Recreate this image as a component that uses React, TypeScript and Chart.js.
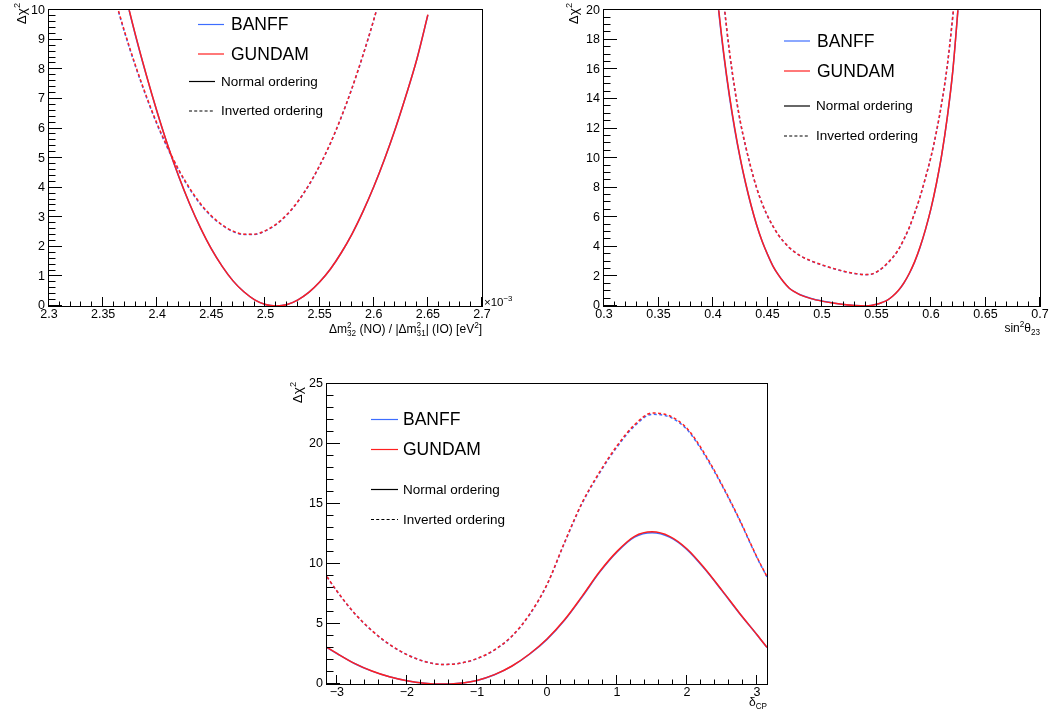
import React, { useEffect, useRef } from 'react';
import { Chart, registerables } from 'chart.js';

Chart.register(...registerables);

const FONT = "'Liberation Sans', Arial, Helvetica, sans-serif";
const BLUE = '#3d6dff';
const RED = '#ff1f1f';
const DASH = [3, 2.5];

// ---------- Panel 1 : Δm²32 ----------
const dm2X = [2.36, 2.37, 2.38, 2.39, 2.40, 2.41, 2.42, 2.43, 2.44, 2.45, 2.46, 2.47, 2.48, 2.49, 2.50,
  2.51, 2.52, 2.53, 2.54, 2.55, 2.56, 2.57, 2.58, 2.59, 2.60, 2.61, 2.62, 2.63, 2.64, 2.65];
const dm2NoGundam = [12.20, 10.62, 9.15, 7.80, 6.55, 5.40, 4.37, 3.45, 2.64, 1.93, 1.34, 0.85, 0.48, 0.21, 0.05,
  0.00, 0.05, 0.21, 0.46, 0.81, 1.25, 1.80, 2.44, 3.19, 4.03, 4.97, 6.00, 7.14, 8.37, 9.85];
const dm2NoBanff = [12.18, 10.60, 9.13, 7.79, 6.54, 5.39, 4.36, 3.44, 2.63, 1.93, 1.34, 0.85, 0.48, 0.21, 0.05,
  0.00, 0.05, 0.21, 0.46, 0.81, 1.25, 1.80, 2.44, 3.19, 4.03, 4.97, 6.00, 7.14, 8.37, 9.84];
const dm2IoGundam = [10.51, 9.26, 8.12, 7.09, 6.15, 5.33, 4.60, 3.98, 3.46, 3.05, 2.74, 2.53, 2.43, 2.43, 2.55,
  2.77, 3.10, 3.54, 4.09, 4.75, 5.51, 6.39, 7.38, 8.48, 9.68, 11.0, 12.4, 14.0, 15.6, 17.4];
const dm2IoBanff = [10.48, 9.23, 8.09, 7.06, 6.12, 5.30, 4.57, 3.95, 3.43, 3.03, 2.73, 2.52, 2.42, 2.42, 2.54,
  2.76, 3.09, 3.53, 4.08, 4.74, 5.50, 6.38, 7.37, 8.47, 9.67, 11.0, 12.4, 14.0, 15.6, 17.4];
const dm2XTicks = [2.3, 2.35, 2.4, 2.45, 2.5, 2.55, 2.6, 2.65, 2.7];
const dm2YTicks = [0, 1, 2, 3, 4, 5, 6, 7, 8, 9, 10];

// ---------- Panel 2 : sin²θ23 ----------
const th23X = [0.395, 0.40, 0.405, 0.41, 0.415, 0.42, 0.425, 0.43, 0.435, 0.44, 0.445, 0.45, 0.455, 0.46,
  0.465, 0.47, 0.475, 0.48, 0.49, 0.50, 0.51, 0.52, 0.53, 0.54, 0.545, 0.55, 0.555, 0.56, 0.565, 0.57,
  0.575, 0.58, 0.585, 0.59, 0.595, 0.60, 0.605, 0.61, 0.615, 0.62, 0.625, 0.63];
const th23NoGundam = [28, 24, 20.2, 17.0, 14.3, 12.0, 10.0, 8.3, 6.8, 5.5, 4.4, 3.5, 2.7, 2.1,
  1.6, 1.2, 0.95, 0.75, 0.50, 0.33, 0.20, 0.10, 0.03, 0.0, 0.03, 0.12, 0.24, 0.40, 0.68, 1.05,
  1.55, 2.2, 3.0, 4.0, 5.2, 6.6, 8.3, 10.3, 12.8, 15.9, 20.3, 25];
const th23NoBanff = [28, 24, 20.1, 16.9, 14.2, 11.9, 9.95, 8.25, 6.78, 5.48, 4.39, 3.49, 2.7, 2.1,
  1.6, 1.2, 0.95, 0.76, 0.51, 0.34, 0.21, 0.10, 0.03, 0.0, 0.03, 0.12, 0.24, 0.40, 0.68, 1.04,
  1.54, 2.18, 2.98, 3.98, 5.18, 6.58, 8.28, 10.28, 12.78, 15.9, 20.3, 25];
const th23IoGundam = [31, 27.5, 24, 20.5, 17.3, 14.7, 12.5, 10.8, 9.3, 8.0, 6.95, 6.1, 5.4, 4.8,
  4.35, 3.95, 3.65, 3.4, 3.05, 2.78, 2.55, 2.35, 2.2, 2.13, 2.15, 2.3, 2.55, 2.9, 3.3, 3.8,
  4.5, 5.3, 6.3, 7.4, 8.7, 10.1, 11.8, 13.8, 16.3, 19.6, 23.5, 28];
const th23IoBanff = [31, 27.4, 23.9, 20.4, 17.2, 14.6, 12.45, 10.75, 9.27, 7.98, 6.93, 6.08, 5.39, 4.79,
  4.34, 3.94, 3.64, 3.39, 3.04, 2.77, 2.54, 2.34, 2.19, 2.12, 2.14, 2.29, 2.54, 2.88, 3.28, 3.78,
  4.48, 5.28, 6.28, 7.38, 8.68, 10.08, 11.78, 13.78, 16.28, 19.6, 23.5, 28];
const th23XTicks = [0.3, 0.35, 0.4, 0.45, 0.5, 0.55, 0.6, 0.65, 0.7];
const th23YTicks = [0, 2, 4, 6, 8, 10, 12, 14, 16, 18, 20];

// ---------- Panel 3 : δCP ----------
const dcpX = [-3.1416, -3, -2.75, -2.5, -2.25, -2, -1.75, -1.5, -1.25, -1, -0.75, -0.5, -0.25, 0,
  0.25, 0.5, 0.75, 1, 1.25, 1.5, 1.75, 2, 2.25, 2.5, 2.75, 3, 3.1416];
const dcpNoGundam = [3.05, 2.55, 1.72, 1.08, 0.6, 0.27, 0.07, 0.0, 0.07, 0.3, 0.78, 1.5, 2.5, 3.75,
  5.35, 7.3, 9.35, 11.05, 12.3, 12.68, 12.3, 11.25, 9.65, 7.8, 5.9, 4.1, 3.05];
const dcpNoBanff = [3.04, 2.54, 1.71, 1.07, 0.6, 0.27, 0.07, 0.0, 0.07, 0.3, 0.77, 1.49, 2.48, 3.72,
  5.31, 7.25, 9.3, 11.0, 12.24, 12.6, 12.24, 11.2, 9.6, 7.77, 5.88, 4.09, 3.04];
const dcpIoGundam = [8.94, 7.75, 5.9, 4.45, 3.3, 2.45, 1.88, 1.63, 1.72, 2.12, 2.85, 4.0, 5.8, 8.3,
  11.8, 15.1, 17.65, 19.85, 21.6, 22.58, 22.35, 21.3, 19.2, 16.6, 13.7, 10.55, 8.94];
const dcpIoBanff = [8.92, 7.73, 5.89, 4.44, 3.29, 2.45, 1.88, 1.63, 1.72, 2.11, 2.83, 3.98, 5.77, 8.26,
  11.75, 15.03, 17.57, 19.75, 21.5, 22.47, 22.25, 21.2, 19.1, 16.52, 13.64, 10.51, 8.92];
const dcpXTicks = [-3, -2, -1, 0, 1, 2, 3];
const dcpYTicks = [0, 5, 10, 15, 20, 25];

type Rich = { t?: string; sup?: string; sub?: string };

function partWidth(ctx: CanvasRenderingContext2D, p: Rich, size: number) {
  if (p.t) {
    ctx.font = `${size}px ${FONT}`;
    return ctx.measureText(p.t).width;
  }
  ctx.font = `${size * 0.68}px ${FONT}`;
  return Math.max(p.sup ? ctx.measureText(p.sup).width : 0, p.sub ? ctx.measureText(p.sub).width : 0);
}

function drawRich(ctx: CanvasRenderingContext2D, parts: Rich[], x: number, y: number, size: number, align: 'left' | 'right') {
  let total = 0;
  for (const p of parts) total += partWidth(ctx, p, size);
  let cx = align === 'right' ? x - total : x;
  ctx.textAlign = 'left';
  ctx.textBaseline = 'alphabetic';
  ctx.fillStyle = '#000';
  for (const p of parts) {
    const w = partWidth(ctx, p, size);
    if (p.t) {
      ctx.font = `${size}px ${FONT}`;
      ctx.fillText(p.t, cx, y);
    } else {
      ctx.font = `${size * 0.68}px ${FONT}`;
      if (p.sup) ctx.fillText(p.sup, cx, y - size * 0.42);
      if (p.sub) ctx.fillText(p.sub, cx, y + size * 0.25);
    }
    cx += w;
  }
}

const rootPlugin = {
  id: 'rootStyle',
  afterDraw(chart: any, _args: any, o: any) {
    const { ctx, chartArea: a } = chart;
    const xs = chart.scales.x;
    const ys = chart.scales.y;
    ctx.save();
    ctx.strokeStyle = '#000';
    ctx.lineWidth = 1;
    // frame
    ctx.strokeRect(Math.round(a.left) - 0.5, Math.round(a.top) - 0.5, Math.round(a.right - a.left) + 1, Math.round(a.bottom - a.top) + 1);
    ctx.beginPath();
    // x ticks (inward from bottom)
    const xMinorStart = Math.ceil(xs.min / o.xMinor - 1e-6) * o.xMinor;
    for (let v = xMinorStart; v <= xs.max + 1e-9; v += o.xMinor) {
      const isMajor = o.xTicks.some((t: number) => Math.abs(t - v) < o.xMinor / 10);
      const px = Math.round(xs.getPixelForValue(v)) - 0.5;
      const len = isMajor ? 9 : 4.5;
      ctx.moveTo(px, a.bottom);
      ctx.lineTo(px, a.bottom - len);
    }
    // y ticks (inward from left)
    const yMinorStart = Math.ceil(ys.min / o.yMinor - 1e-6) * o.yMinor;
    for (let v = yMinorStart; v <= ys.max + 1e-9; v += o.yMinor) {
      const isMajor = o.yTicks.some((t: number) => Math.abs(t - v) < o.yMinor / 10);
      const py = Math.round(ys.getPixelForValue(v)) - 0.5;
      const len = isMajor ? 13 : 6.5;
      ctx.moveTo(a.left, py);
      ctx.lineTo(a.left + len, py);
    }
    ctx.stroke();

    // axis titles
    drawRich(ctx, o.xTitle, o.xTitlePos[0], o.xTitlePos[1], 12, 'right');
    ctx.save();
    ctx.translate(o.yTitlePos[0], o.yTitlePos[1]);
    ctx.rotate(-Math.PI / 2);
    drawRich(ctx, [{ t: 'Δχ' }, { sup: '2' }], 0, 0, 13.5, 'right');
    ctx.restore();
    if (o.exponent) {
      drawRich(ctx, [{ t: '×10' }, { sup: '−3' }], o.exponent[0], o.exponent[1], 11.5, 'left');
    }

    // legend
    for (const e of o.legend) {
      ctx.beginPath();
      ctx.strokeStyle = e.color;
      ctx.lineWidth = 1.2;
      ctx.setLineDash(e.dash ? [3, 2.2] : []);
      ctx.moveTo(e.x1, e.y + 0.5);
      ctx.lineTo(e.x2, e.y + 0.5);
      ctx.stroke();
      ctx.setLineDash([]);
      ctx.fillStyle = '#000';
      ctx.font = `${e.size}px ${FONT}`;
      ctx.textAlign = 'left';
      ctx.textBaseline = 'alphabetic';
      ctx.fillText(e.text, e.tx, e.y + e.size * 0.36);
    }
    ctx.restore();
  },
};

function fmt(v: number) {
  const s = parseFloat(Number(v).toFixed(3)).toString();
  return s.replace('-', '−');
}

function ds(label: string, xv: number[], yv: number[], color: string, dashed: boolean) {
  return {
    label,
    data: xv.map((x, i) => ({ x, y: yv[i] })),
    borderColor: color,
    backgroundColor: color,
    borderWidth: 1.5,
    borderDash: dashed ? DASH : [],
    pointRadius: 0,
    fill: false,
    cubicInterpolationMode: 'monotone',
    clip: 0,
  };
}

type Spec = {
  left: number; top: number; w: number; h: number;
  pad: { left: number; top: number; right: number; bottom: number };
  yW: number; xH: number;
  xMin: number; xMax: number; yMin: number; yMax: number;
  xTicks: number[]; yTicks: number[]; xMinor: number; yMinor: number;
  x: number[]; noG: number[]; noB: number[]; ioG: number[]; ioB: number[];
  xTitle: Rich[]; xTitlePos: [number, number]; yTitlePos: [number, number];
  exponent?: [number, number];
  legend: any[];
};

function legendFor(l: { bx1: number; bx2: number; btx: number; y1: number; y2: number; nx1: number; nx2: number; ntx: number; y3: number; y4: number }) {
  return [
    { x1: l.bx1, x2: l.bx2, y: l.y1, color: BLUE, text: 'BANFF', tx: l.btx, size: 17.5 },
    { x1: l.bx1, x2: l.bx2, y: l.y2, color: RED, text: 'GUNDAM', tx: l.btx, size: 17.5 },
    { x1: l.nx1, x2: l.nx2, y: l.y3, color: '#000', text: 'Normal ordering', tx: l.ntx, size: 13.5 },
    { x1: l.nx1, x2: l.nx2, y: l.y4, color: '#000', dash: true, text: 'Inverted ordering', tx: l.ntx, size: 13.5 },
  ];
}

const specs: Spec[] = [
  {
    left: 0, top: 0, w: 528, h: 340,
    pad: { left: 0, top: 6, right: 46, bottom: 0 }, yW: 49, xH: 34,
    xMin: 2.3, xMax: 2.7, yMin: 0, yMax: 10,
    xTicks: dm2XTicks, yTicks: dm2YTicks, xMinor: 0.01, yMinor: 0.2,
    x: dm2X, noG: dm2NoGundam, noB: dm2NoBanff, ioG: dm2IoGundam, ioB: dm2IoBanff,
    xTitle: [{ t: 'Δm' }, { sup: '2', sub: '32' }, { t: ' (NO) / |Δm' }, { sup: '2', sub: '31' }, { t: '| (IO) [eV' }, { sup: '2' }, { t: ']' }],
    xTitlePos: [482, 333], yTitlePos: [26, 3], exponent: [484, 306],
    legend: legendFor({ bx1: 198, bx2: 224, btx: 231, y1: 24, y2: 53.5, nx1: 189, nx2: 215, ntx: 221, y3: 81, y4: 110.5 }),
  },
  {
    left: 528, top: 0, w: 529, h: 340,
    pad: { left: 0, top: 6, right: 17, bottom: 0 }, yW: 76, xH: 34,
    xMin: 0.3, xMax: 0.7, yMin: 0, yMax: 20,
    xTicks: th23XTicks, yTicks: th23YTicks, xMinor: 0.01, yMinor: 0.5,
    x: th23X, noG: th23NoGundam, noB: th23NoBanff, ioG: th23IoGundam, ioB: th23IoBanff,
    xTitle: [{ t: 'sin' }, { sup: '2' }, { t: 'θ' }, { sub: '23' }],
    xTitlePos: [512, 332], yTitlePos: [50, 3],
    legend: legendFor({ bx1: 256, bx2: 282, btx: 289, y1: 40.5, y2: 70.5, nx1: 256, nx2: 282, ntx: 288, y3: 105.5, y4: 135.5 }),
  },
  {
    left: 264, top: 340, w: 528, h: 377,
    pad: { left: 0, top: 44, right: 25, bottom: 0 }, yW: 63, xH: 33,
    xMin: -Math.PI, xMax: Math.PI, yMin: 0, yMax: 25,
    xTicks: dcpXTicks, yTicks: dcpYTicks, xMinor: 0.2, yMinor: 1,
    x: dcpX, noG: dcpNoGundam, noB: dcpNoBanff, ioG: dcpIoGundam, ioB: dcpIoBanff,
    xTitle: [{ t: 'δ' }, { sub: 'CP' }],
    xTitlePos: [503, 366], yTitlePos: [38, 42],
    legend: legendFor({ bx1: 107, bx2: 134, btx: 139, y1: 79, y2: 109, nx1: 107, nx2: 134, ntx: 139, y3: 149, y4: 179 }),
  },
];

function buildConfig(s: Spec): any {
  const tickFont = { family: FONT, size: 12.5, lineHeight: 1 };
  return {
    type: 'line',
    data: {
      datasets: [
        ds('GUNDAM NO', s.x, s.noG, RED, false),
        ds('GUNDAM IO', s.x, s.ioG, RED, true),
        ds('BANFF NO', s.x, s.noB, BLUE, false),
        ds('BANFF IO', s.x, s.ioB, BLUE, true),
      ],
    },
    options: {
      responsive: false,
      animation: false,
      devicePixelRatio: 1,
      events: [],
      layout: { padding: s.pad },
      plugins: {
        legend: { display: false },
        tooltip: { enabled: false },
        rootStyle: {
          xTicks: s.xTicks, yTicks: s.yTicks, xMinor: s.xMinor, yMinor: s.yMinor,
          xTitle: s.xTitle, xTitlePos: s.xTitlePos, yTitlePos: s.yTitlePos,
          exponent: s.exponent, legend: s.legend,
        },
      },
      scales: {
        x: {
          type: 'linear', min: s.xMin, max: s.xMax,
          afterBuildTicks: (sc: any) => { sc.ticks = s.xTicks.map((v) => ({ value: v })); },
          afterFit: (sc: any) => { sc.height = s.xH; },
          grid: { display: false, drawTicks: false },
          border: { display: false },
          ticks: { autoSkip: false, maxRotation: 0, minRotation: 0, padding: 2.5, color: '#000', font: tickFont, callback: (v: number) => fmt(v) },
        },
        y: {
          type: 'linear', min: s.yMin, max: s.yMax,
          afterBuildTicks: (sc: any) => { sc.ticks = s.yTicks.map((v) => ({ value: v })); },
          afterFit: (sc: any) => { sc.width = s.yW; },
          grid: { display: false, drawTicks: false },
          border: { display: false },
          ticks: { autoSkip: false, padding: 4, color: '#000', font: tickFont, callback: (v: number) => fmt(v) },
        },
      },
    },
    plugins: [rootPlugin],
  };
}

function Panel({ s }: { s: Spec }) {
  const ref = useRef<HTMLCanvasElement>(null);
  useEffect(() => {
    const chart = new Chart(ref.current as HTMLCanvasElement, buildConfig(s));
    return () => chart.destroy();
  }, [s]);
  return (
    <canvas
      ref={ref}
      width={s.w}
      height={s.h}
      style={{ position: 'absolute', left: s.left, top: s.top, width: s.w, height: s.h }}
    />
  );
}

export default function App() {
  return (
    <div style={{ position: 'absolute', left: 0, top: 0, width: 1057, height: 717, background: '#fff', overflow: 'hidden' }}>
      {specs.map((s, i) => (
        <Panel key={i} s={s} />
      ))}
    </div>
  );
}
